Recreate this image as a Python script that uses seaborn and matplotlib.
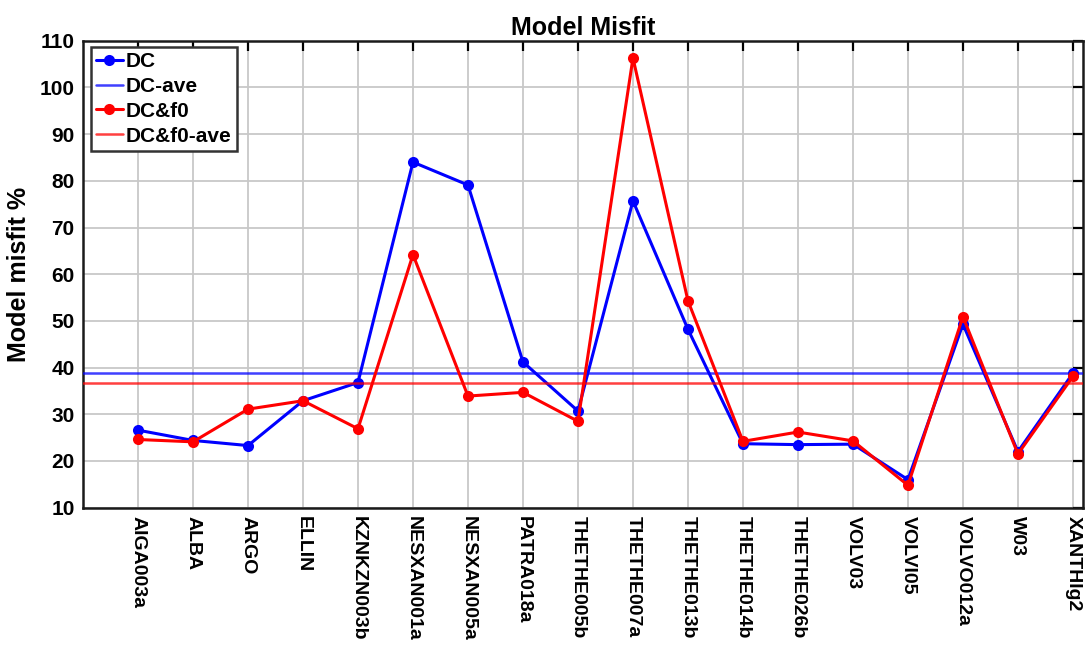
import numpy as np
import pandas as pd
import seaborn as sns
import matplotlib
matplotlib.use("Agg")
import matplotlib.pyplot as plt

# Stations and model misfit (%) for the two inversion setups
stations = ["AIGA003a", "ALBA", "ARGO", "ELLIN", "KZNKZN003b", "NESXAN001a",
            "NESXAN005a", "PATRA018a", "THETHE005b", "THETHE007a", "THETHE013b",
            "THETHE014b", "THETHE026b", "VOLV03", "VOLVI05", "VOLVO012a",
            "W03", "XANTHIg2"]
misfit_dc = [26.6, 24.4, 23.3, 32.9, 36.8, 84.0, 79.1, 41.2, 30.7, 75.7,
             48.2, 23.7, 23.5, 23.6, 16.0, 49.3, 22.0, 38.8]
misfit_dc_f0 = [24.6, 24.1, 31.1, 32.9, 26.9, 64.2, 33.9, 34.7, 28.5, 106.3,
                54.3, 24.2, 26.2, 24.3, 14.8, 50.9, 21.5, 38.1]

sns.set_theme(style="white")
plt.rcParams["font.family"] = ["Liberation Sans", "DejaVu Sans"]
plt.rcParams["font.weight"] = "bold"
plt.rcParams["text.color"] = "black"
plt.rcParams["axes.labelcolor"] = "black"
plt.rcParams["xtick.color"] = "black"
plt.rcParams["ytick.color"] = "black"

idx = np.arange(len(stations))
df = pd.DataFrame({"pos": idx, "station": stations,
                   "DC": misfit_dc, "DC&f0": misfit_dc_f0})

fig = plt.figure(figsize=(10.85, 6.6), dpi=100)
ax = fig.add_axes([0.0765, 0.2308, 0.9215, 0.7075])

blue = "#0000ff"
red = "#ff0000"
mean_dc = float(np.mean(misfit_dc))
mean_f0 = float(np.mean(misfit_dc_f0))

sns.lineplot(data=df, x="pos", y="DC", ax=ax, color=blue, lw=2.2,
             marker="o", markersize=8, markeredgewidth=0, sort=False, zorder=3)
ax.axhline(mean_dc, color=blue, lw=1.8, alpha=0.75, zorder=3)
sns.lineplot(data=df, x="pos", y="DC&f0", ax=ax, color=red, lw=2.2,
             marker="o", markersize=8, markeredgewidth=0, sort=False, zorder=4)
ax.axhline(mean_f0, color=red, lw=1.8, alpha=0.75, zorder=4)

lines = ax.get_lines()
ax.legend(lines[:4], ["DC", "DC-ave", "DC&f0", "DC&f0-ave"],
          loc="upper left", bbox_to_anchor=(0.0075, 0.987), fancybox=False,
          framealpha=1, edgecolor="#333333", handlelength=1.3,
          handletextpad=0.15, borderpad=0.25, labelspacing=0.28,
          borderaxespad=0.0, prop={"size": 15, "weight": "bold"})
ax.get_legend().get_frame().set_linewidth(1.8)

ax.set_xlim(-1, 17.18)
ax.set_ylim(10, 110)
ax.set_xticks(idx)
ax.set_xticklabels(stations, rotation=-90, fontsize=14, fontweight="bold",
                   ha="center", va="top")
ax.set_yticks(np.arange(10, 111, 10))
ax.tick_params(axis="y", labelsize=15)
for lab in ax.get_yticklabels():
    lab.set_fontweight("bold")
ax.tick_params(direction="in", length=7, width=1.6, top=True, right=True,
               colors="black", pad=6)

ax.grid(True, color="#c8c8c8", lw=1.3)
for sp in ax.spines.values():
    sp.set_color("#1a1a1a")
    sp.set_linewidth(1.8)

ax.set_xlabel("")
ax.set_ylabel("Model misfit %", fontsize=18, fontweight="bold", labelpad=6)
ax.set_title("Model Misfit", fontsize=18, fontweight="bold", pad=4)

fig.savefig("out.png", dpi=100)
